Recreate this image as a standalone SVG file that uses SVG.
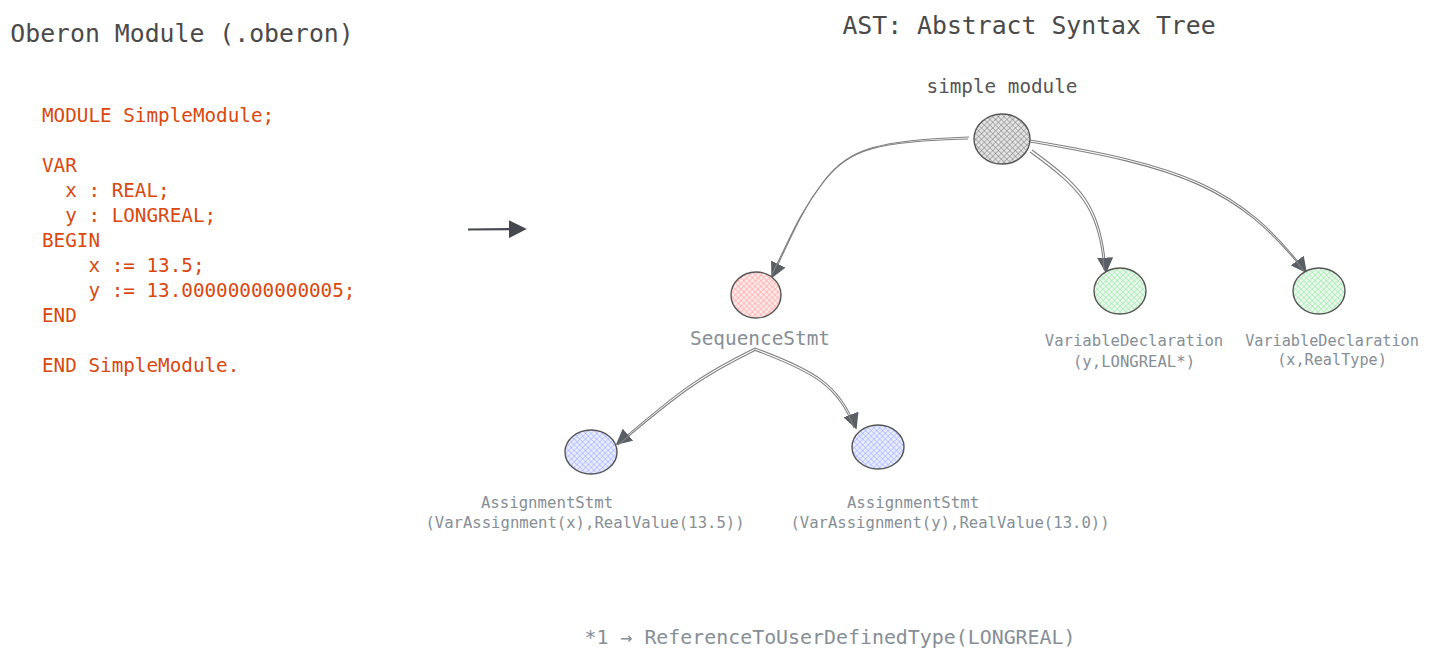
<svg xmlns="http://www.w3.org/2000/svg" width="1430" height="660" viewBox="0 0 1430 660">
<style>
.t{font-family:"DejaVu Sans Mono","Liberation Mono",monospace;white-space:pre}
.title{font-size:24.8px;fill:#4a4a4a}
.code{font-size:19.3px;fill:#d9480f}
.lbl{fill:#868e96;text-anchor:middle}
.edge{fill:none;stroke:#808080;stroke-width:1.1}
.node{stroke:#555;stroke-width:1.4}
</style>
<defs>
<pattern id="hGray" width="4" height="4" patternUnits="userSpaceOnUse" patternTransform="rotate(45)"><rect width="4" height="4" fill="#e4e4e4"/><path d="M0 0H4M0 0V4" stroke="#6f6f6f" stroke-width="0.9"/></pattern>
<pattern id="hRed" width="4" height="4" patternUnits="userSpaceOnUse" patternTransform="rotate(45)"><rect width="4" height="4" fill="#ffe8e8"/><path d="M0 0H4M0 0V4" stroke="#ff9090" stroke-width="0.9"/></pattern>
<pattern id="hGreen" width="4" height="4" patternUnits="userSpaceOnUse" patternTransform="rotate(45)"><rect width="4" height="4" fill="#e8f9eb"/><path d="M0 0H4M0 0V4" stroke="#8fdc9c" stroke-width="0.9"/></pattern>
<pattern id="hBlue" width="4" height="4" patternUnits="userSpaceOnUse" patternTransform="rotate(45)"><rect width="4" height="4" fill="#eaedff"/><path d="M0 0H4M0 0V4" stroke="#8d9dff" stroke-width="0.9"/></pattern>
<marker id="arr" viewBox="0 0 10 10" refX="9" refY="5" markerWidth="16" markerHeight="16" markerUnits="userSpaceOnUse" orient="auto"><path d="M0 0L10 5L0 10z" fill="#5a5f66"/></marker>
<marker id="arrBig" viewBox="0 0 10 10" refX="9" refY="5" markerWidth="18" markerHeight="18" markerUnits="userSpaceOnUse" orient="auto"><path d="M0 0L10 5L0 10z" fill="#45494f"/></marker>
</defs>

<g id="titles">
<text class="t title" x="182" y="42" text-anchor="middle">Oberon Module (.oberon)</text>
<text class="t title" x="1029" y="34" text-anchor="middle">AST: Abstract Syntax Tree</text>
</g>

<g id="code">
<text class="t code" x="42" y="122">MODULE SimpleModule;</text>
<text class="t code" x="42" y="172">VAR</text>
<text class="t code" x="42" y="197">  x : REAL;</text>
<text class="t code" x="42" y="222">  y : LONGREAL;</text>
<text class="t code" x="42" y="247">BEGIN</text>
<text class="t code" x="42" y="272">    x := 13.5;</text>
<text class="t code" x="42" y="297">    y := 13.00000000000005;</text>
<text class="t code" x="42" y="322">END</text>
<text class="t code" x="42" y="372">END SimpleModule.</text>
</g>

<g id="connectors">
<path d="M468 229.5L525 229" fill="none" stroke="#45494f" stroke-width="2.2" marker-end="url(#arrBig)"/>
<path class="edge" d="M969 137C880 140 850 148 825 180S790 240 772 277" marker-end="url(#arr)"/>
<path class="edge" d="M968 139C879 141 849 149 824 181S789 241 771 276"/>
<path class="edge" d="M1032 150C1080 185 1102 205 1106 272" marker-end="url(#arr)"/>
<path class="edge" d="M1030 152C1078 187 1100 207 1104 270"/>
<path class="edge" d="M1030 140C1180 165 1240 185 1306 272" marker-end="url(#arr)"/>
<path class="edge" d="M1030 142C1178 167 1238 187 1304 271"/>
<path class="edge" d="M755 348C700 375 680 390 617 444" marker-end="url(#arr)"/>
<path class="edge" d="M756 350C701 377 681 392 618 445"/>
<path class="edge" d="M755 348C815 370 840 385 856 428" marker-end="url(#arr)"/>
<path class="edge" d="M754 350C814 372 839 387 854 428"/>
</g>

<g id="node-root">
<ellipse class="node" cx="1002" cy="139" rx="28" ry="25" fill="url(#hGray)"/>
<text class="t lbl" x="1002" y="93" font-size="19.3" style="fill:#555">simple module</text>
</g>

<g id="node-seq">
<ellipse class="node" cx="756" cy="295" rx="25" ry="23" fill="url(#hRed)"/>
<text class="t lbl" x="760" y="345" font-size="19.4">SequenceStmt</text>
</g>

<g id="node-vardecl-y">
<ellipse class="node" cx="1120" cy="291" rx="26" ry="23" fill="url(#hGreen)"/>
<text class="t lbl" x="1134" y="346" font-size="15.6">VariableDeclaration</text>
<text class="t lbl" x="1134" y="367" font-size="15.6">(y,LONGREAL*)</text>
</g>

<g id="node-vardecl-x">
<ellipse class="node" cx="1319" cy="291" rx="26" ry="23" fill="url(#hGreen)"/>
<text class="t lbl" x="1332" y="346" font-size="15.2">VariableDeclaration</text>
<text class="t lbl" x="1332" y="365" font-size="15.2">(x,RealType)</text>
</g>

<g id="node-assign-x">
<ellipse class="node" cx="591" cy="452" rx="26" ry="22" fill="url(#hBlue)"/>
<text class="t lbl" x="547" y="508" font-size="15.7">AssignmentStmt</text>
<text class="t lbl" x="585" y="528" font-size="15.6">(VarAssignment(x),RealValue(13.5))</text>
</g>

<g id="node-assign-y">
<ellipse class="node" cx="878" cy="447" rx="26" ry="22" fill="url(#hBlue)"/>
<text class="t lbl" x="913" y="508" font-size="15.7">AssignmentStmt</text>
<text class="t lbl" x="950" y="528" font-size="15.6">(VarAssignment(y),RealValue(13.0))</text>
</g>

<g id="footnote">
<text class="t lbl" x="830" y="644" font-size="19.9">*1 → ReferenceToUserDefinedType(LONGREAL)</text>
</g>
</svg>
